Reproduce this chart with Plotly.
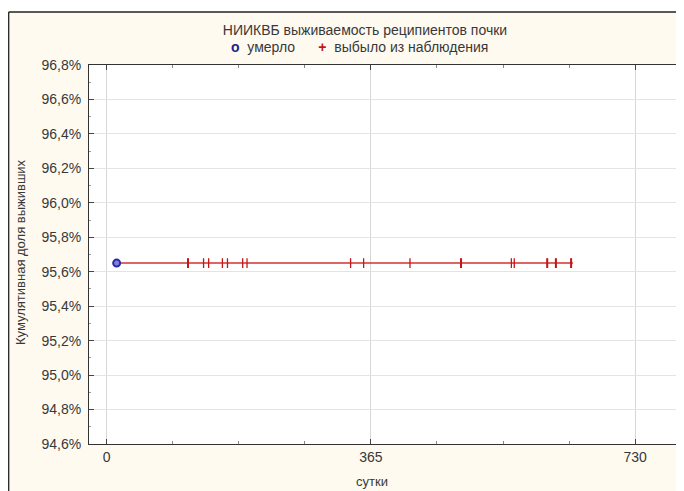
import plotly.graph_objects as go

# ---- data ----
km_days = [14, 644]
km_surv = [95.65, 95.65]
death_days = [14]
death_surv = [95.65]
censored_days = [112, 113, 134, 141, 160, 167, 188, 194, 337, 355, 419,
                 489, 490, 559, 563, 608, 609, 620, 621, 641, 642]
censored_surv = [95.65] * len(censored_days)

x_tickvals = [0, 365, 730]
x_ticktext = ["0", "365", "730"]
y_tickvals = [94.6, 94.8, 95.0, 95.2, 95.4, 95.6, 95.8, 96.0, 96.2, 96.4, 96.6, 96.8]
y_ticktext = ["94,6%", "94,8%", "95,0%", "95,2%", "95,4%", "95,6%",
              "95,8%", "96,0%", "96,2%", "96,4%", "96,6%", "96,8%"]

title_text = "НИИКВБ выживаемость реципиентов почки"
x_title = "сутки"
y_title = "Кумулятивная доля выживших"
legend_dead = "умерло"
legend_cens = "выбыло из наблюдения"

# ---- layout geometry (page px; the page body adds an 8px offset) ----
OFF = 8
W, H = 684, 491
PL, PT, PR, PB = 89, 65, 683, 444          # plot box in page pixels
L, T = PL - OFF, PT - OFF
R, B = W - (PR - OFF), H - (PB - OFF)
pw, ph = W - L - R, H - T - B


def xp(px):
    return (px - OFF - L) / pw


def yp(py):
    return (H - B - (py - OFF)) / ph


FONT = "Liberation Sans, Arial, sans-serif"
CREAM = "#FFFAF0"
RED = "#D43030"
BLUE = "#2A2AA8"
TXT = "#383838"

fig = go.Figure()

fig.add_trace(go.Scatter(x=km_days, y=km_surv, mode="lines",
                         line=dict(color=RED, width=1.5),
                         showlegend=False, hoverinfo="skip"))
fig.add_trace(go.Scatter(x=censored_days, y=censored_surv, mode="markers",
                         name=legend_cens,
                         marker=dict(symbol="line-ns", size=7,
                                     line=dict(color="#C01818", width=1.3)),
                         showlegend=False))
fig.add_trace(go.Scatter(x=death_days, y=death_surv, mode="markers",
                         name=legend_dead,
                         marker=dict(symbol="circle", size=7, color="#8080D8",
                                     line=dict(color=BLUE, width=2)),
                         showlegend=False))

shapes = [
    # white strip above the outer frame
    dict(type="rect", xref="paper", yref="paper", x0=-0.3, x1=1.3,
         y0=yp(12), y1=1.4, fillcolor="white", line=dict(width=0), layer="below"),
    # outer frame
    dict(type="line", xref="paper", yref="paper", x0=xp(8.7), x1=xp(8.7),
         y0=-0.3, y1=yp(12), line=dict(color="#222222", width=1.3)),
    dict(type="line", xref="paper", yref="paper", x0=xp(8.7), x1=1.3,
         y0=yp(12), y1=yp(12), line=dict(color="#222222", width=1.3)),
]

legend_text = ("<b><span style='color:#1E1E8C'>o</span></b>  " + legend_dead +
               "      <b><span style='color:#C01818'>+</span></b>  " + legend_cens)

annotations = [
    dict(text=y_title, xref="paper", yref="paper", x=xp(20), y=yp(252),
         textangle=-90, showarrow=False, xanchor="center", yanchor="middle",
         font=dict(family=FONT, size=13, color=TXT)),
    dict(text=x_title, xref="paper", yref="paper", x=xp(372), y=yp(481),
         showarrow=False, xanchor="center", yanchor="middle",
         font=dict(family=FONT, size=13, color=TXT)),
    dict(text=legend_text, xref="paper", yref="paper", x=xp(359), y=yp(47),
         showarrow=False, xanchor="center", yanchor="middle",
         font=dict(family=FONT, size=14, color=TXT)),
]

fig.update_layout(
    width=W, height=H,
    margin=dict(l=L, r=R, t=T, b=B, pad=0),
    paper_bgcolor=CREAM, plot_bgcolor="white",
    font=dict(family=FONT, size=14, color=TXT),
    title=dict(text=title_text, x=(365 - OFF) / W, xref="container",
               xanchor="center", y=1 - (30 - OFF) / H, yref="container",
               yanchor="middle", font=dict(family=FONT, size=14, color=TXT)),
    shapes=shapes,
    annotations=annotations,
    showlegend=False,
)

fig.update_xaxes(
    range=[-24.2, 796], tickvals=x_tickvals, ticktext=x_ticktext,
    showgrid=True, gridcolor="#D6D6D6", gridwidth=1, zeroline=False,
    showline=True, linecolor="#333333", linewidth=1, mirror="ticks",
    ticks="inside", ticklen=5, tickcolor="#444444",
    minor=dict(dtick=91.25, tick0=0, ticks="inside", ticklen=3,
               tickcolor="#888888", showgrid=False),
    tickfont=dict(family=FONT, size=14, color=TXT),
)
fig.update_yaxes(
    range=[94.6, 96.8], tickvals=y_tickvals, ticktext=y_ticktext,
    showgrid=True, gridcolor="#E4E4E4", gridwidth=1, zeroline=False,
    showline=True, linecolor="#333333", linewidth=1, mirror="ticks",
    ticks="inside", ticklen=5, tickcolor="#444444",
    minor=dict(dtick=0.1, tick0=94.6, ticks="inside", ticklen=2,
               tickcolor="#999999", showgrid=False),
    ticklabelstandoff=4,
    tickfont=dict(family=FONT, size=14, color=TXT),
)

fig.write_html("out.html")
